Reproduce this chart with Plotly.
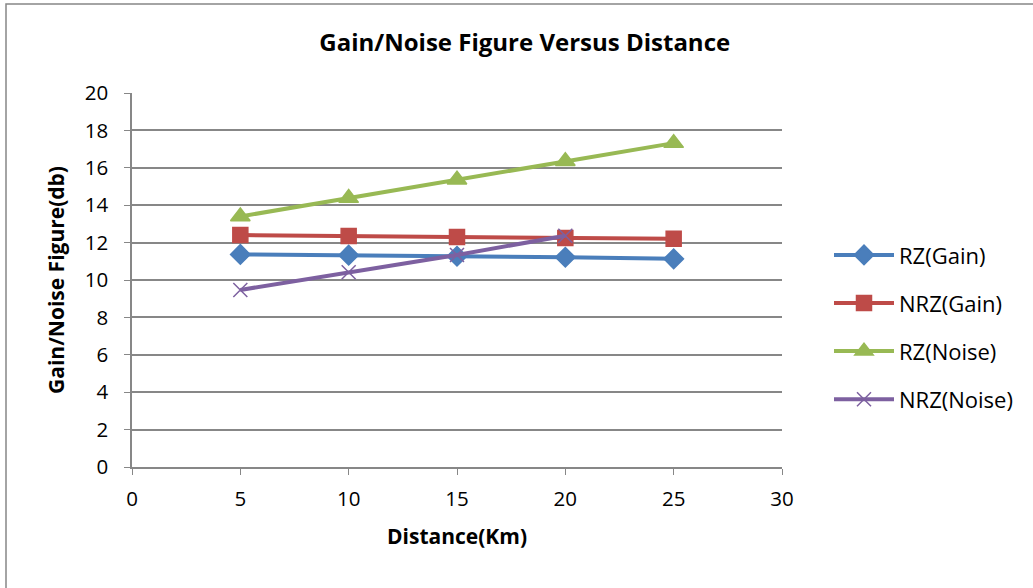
import plotly.graph_objects as go

distance = [5, 10, 15, 20, 25]
rz_gain = [11.37, 11.33, 11.27, 11.22, 11.13]
nrz_gain = [12.4, 12.35, 12.3, 12.25, 12.2]
rz_noise = [13.4, 14.38, 15.36, 16.35, 17.32]
nrz_noise_x = [5, 10, 15, 20]
nrz_noise = [9.47, 10.41, 11.34, 12.37]

series = [
    ("RZ(Gain)", distance, rz_gain, "#4A7EBB", "diamond", 15),
    ("NRZ(Gain)", distance, nrz_gain, "#BE4B48", "square", 15),
    ("RZ(Noise)", distance, rz_noise, "#98B954", "triangle-up", 17),
    ("NRZ(Noise)", nrz_noise_x, nrz_noise, "#7D60A0", "x-thin", 14),
]

fig = go.Figure()
for name, xs, ys, color, sym, size in series:
    fig.add_trace(go.Scatter(
        x=xs, y=ys, name=name, legendgroup=name, mode="lines+markers",
        line=dict(color=color, width=4),
        marker=dict(symbol=sym, size=size, color=color,
                    line=dict(color=color, width=1.5)),
    ))

font_family = "Open Sans, sans-serif"
L, R, T, B = 132, 251, 93, 121
PW, PH = 1033 - L - R, 588 - T - B
fig.update_layout(
    width=1033, height=588,
    paper_bgcolor="white", plot_bgcolor="white",
    margin=dict(l=L, r=R, t=T, b=B),
    font=dict(family=font_family, size=20.5, color="black"),
    title=dict(text="<b>Gain/Noise Figure Versus Distance</b>", x=0.508, xanchor="center",
               xref="container", y=0.927, yanchor="middle", font=dict(size=24)),
    xaxis=dict(range=[0, 30], tickvals=[0, 5, 10, 15, 20, 25, 30], showgrid=False,
               zeroline=False, showline=True, linecolor="#878787", linewidth=1.5,
               ticks="outside", ticklen=6, tickcolor="#878787", ticklabelstandoff=7,
               title=dict(text="<b>Distance(Km)</b>", standoff=18, font=dict(size=21))),
    yaxis=dict(range=[0, 20], tickvals=list(range(0, 21, 2)), showgrid=True,
               gridcolor="#878787", gridwidth=1.5, zeroline=False, showline=True,
               linecolor="#878787", linewidth=1.5, ticks="outside", ticklen=6,
               tickcolor="#878787", ticklabelstandoff=12,
               title=dict(text="<b>Gain/Noise Figure(db)</b>", standoff=14, font=dict(size=21))),
    legend=dict(x=(829 - L) / PW, y=0.374, xanchor="left", yanchor="middle",
                font=dict(size=22), traceorder="grouped", tracegroupgap=16.5, itemwidth=60),
    shapes=[dict(type="rect", xref="paper", yref="paper",
                 x0=(6 - L) / PW, x1=(1045 - L) / PW,
                 y0=(467 - 600) / PH, y1=(467 - 4) / PH,
                 line=dict(color="#878787", width=1.5), fillcolor="rgba(0,0,0,0)")],
)
fig.write_html("out.html", config={"displayModeBar": False},
               post_script="document.body.style.margin='0';")
